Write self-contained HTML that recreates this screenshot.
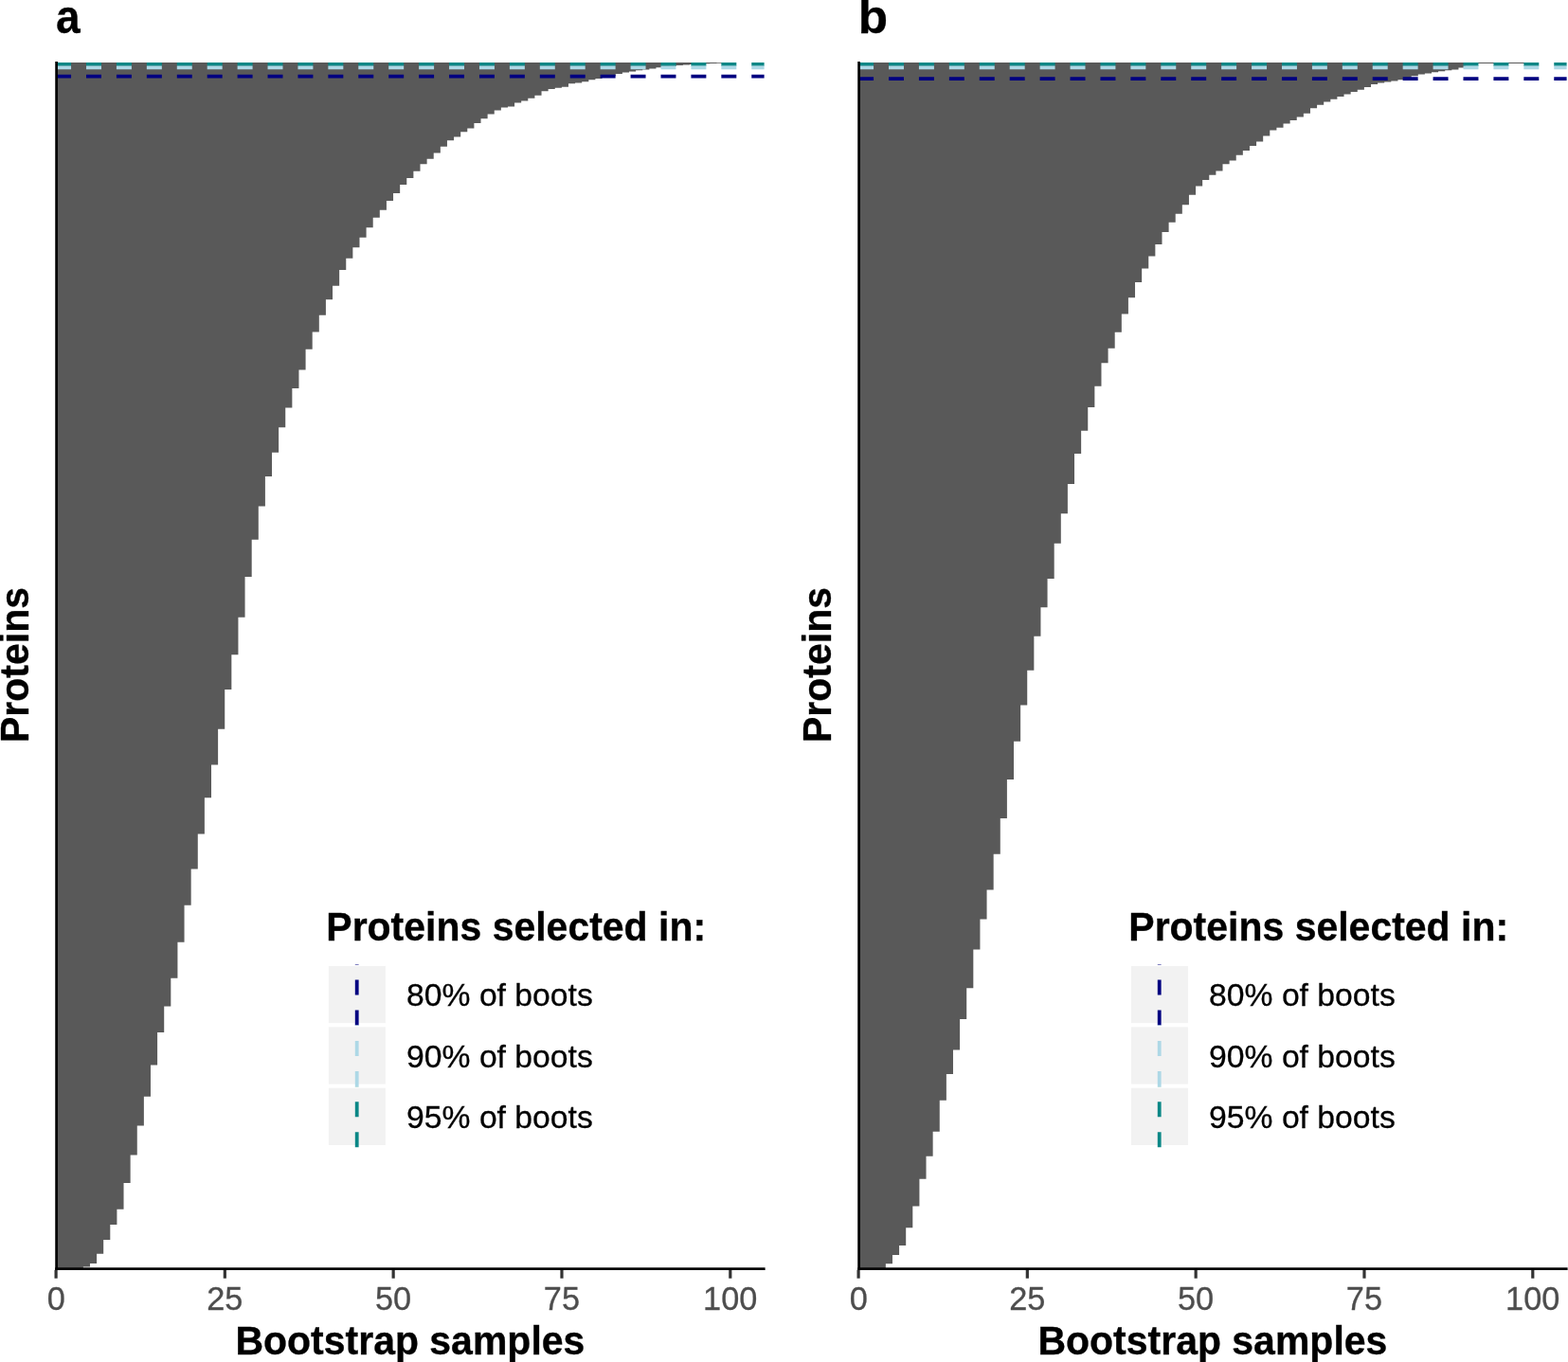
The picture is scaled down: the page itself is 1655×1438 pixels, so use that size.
<!DOCTYPE html>
<html lang="en">
<head>
<meta charset="utf-8">
<title>Bootstrap selection frequency of proteins</title>
<style>
html,body{margin:0;padding:0;background:#fff;}
body{width:1655px;height:1438px;overflow:hidden;}
svg{display:block;font-family:"Liberation Sans",sans-serif;}

</style>
</head>
<body>
<svg width="1655" height="1438" viewBox="0 0 1655 1438">
<rect width="1655" height="1438" fill="#fff"/>
<g>
<path d="M59.4 1339.5H87.85V1337.5H94.97V1334H102.08V1323.8H109.19V1308.9H116.3V1293H123.42V1276.7H130.53V1249H137.64V1219.6H144.76V1188.6H151.87V1157.7H158.98V1124.5H166.09V1090.1H173.21V1062.5H180.32V1032.8H187.43V994.8H194.55V955.7H201.66V917.6H208.77V880.4H215.89V842.2H223V807.6H230.11V769.7H237.23V728.1H244.34V691.2H251.45V651.7H258.56V608.9H265.68V569.7H272.79V534.6H279.9V503.1H287.02V477.8H294.13V451.2H301.24V430.6H308.36V409.9H315.47V390.5H322.58V368.7H329.69V350.6H336.81V332.7H343.92V316.3H351.03V301.7H358.15V284.9H365.26V272.8H372.37V261.2H379.49V250.8H386.6V240.2H393.71V229.8H400.82V221.8H407.94V211.9H415.05V203.9H422.16V195H429.28V188H436.39V180.7H443.5V173.2H450.62V167.7H457.73V161.6H464.84V154.8H471.95V148.2H479.07V144.4H486.18V139.3H493.29V135.5H500.41V130H507.52V125.2H514.63V120.6H521.75V116.4H528.86V113.4H535.97V112.4H543.08V108.5H550.2V106.6H557.31V103.7H564.42V100.7H571.54V96.3H578.65V93.9H585.76V92.8H592.88V91.7H599.99V88.2H607.1V87.6H614.21V86.2H621.33V84.2H628.44V82.9H635.55V81.6H642.67V80.3H649.78V77.9H656.89V76.6H664V75.6H671.12V74.3H678.23V73.6H685.34V72.6H692.46V71.3H699.57V70.5H706.68V69.7H713.8V68.9H720.91V68.4H728.02V68H735.13V67.6H742.25V67.3H749.36V67H756.47V66.8H763.59V66H770.7V66H59.4Z" fill="#595959"/>
<path d="M59.1 80.7H806.6" stroke="#000080" stroke-width="3.7" stroke-dasharray="15.96 15.96" fill="none"/>
<path d="M59.1 67.85H806.6" stroke="#0A8786" stroke-width="3.7" stroke-dasharray="15.96 15.96" fill="none"/>
<path d="M59.1 71.4H806.6" stroke="#ADD8E6" stroke-width="3.7" stroke-dasharray="15.96 15.96" fill="none"/>
<rect x="58.25" y="65" width="2.7" height="1276" fill="#000"/>
<rect x="58.25" y="1338.3" width="749.35" height="2.7" fill="#000"/>
<rect x="57.5" y="1340.9" width="3.2" height="8.8" fill="#333333"/>
<text transform="translate(59.4 1382.8)" text-anchor="middle" font-size="34.3" fill="#4D4D4D" stroke="#4D4D4D" stroke-width="0.3">0</text>
<rect x="235.73" y="1340.9" width="3.2" height="8.8" fill="#333333"/>
<text transform="translate(237.23 1382.8)" text-anchor="middle" font-size="34.3" fill="#4D4D4D" stroke="#4D4D4D" stroke-width="0.3">25</text>
<rect x="413.55" y="1340.9" width="3.2" height="8.8" fill="#333333"/>
<text transform="translate(415.05 1382.8)" text-anchor="middle" font-size="34.3" fill="#4D4D4D" stroke="#4D4D4D" stroke-width="0.3">50</text>
<rect x="591.38" y="1340.9" width="3.2" height="8.8" fill="#333333"/>
<text transform="translate(592.88 1382.8)" text-anchor="middle" font-size="34.3" fill="#4D4D4D" stroke="#4D4D4D" stroke-width="0.3">75</text>
<rect x="769.2" y="1340.9" width="3.2" height="8.8" fill="#333333"/>
<text transform="translate(770.7 1382.8)" text-anchor="middle" font-size="34.3" fill="#4D4D4D" stroke="#4D4D4D" stroke-width="0.3">100</text>
<text transform="translate(432.9 1429.6) scale(0.976 1)" text-anchor="middle" font-size="42" font-weight="bold" stroke="#000" stroke-width="0.35">Bootstrap samples</text>
<text transform="translate(29.9 702) rotate(-90) scale(0.976 1)" text-anchor="middle" font-size="42" font-weight="bold" stroke="#000" stroke-width="0.35">Proteins</text>
<text transform="translate(58.9 35.3) scale(0.935 1)" font-size="49.3" font-weight="bold" stroke="#000" stroke-width="0.3">a</text>
<text transform="translate(344.3 992.8) scale(0.976 1)" font-size="42" font-weight="bold" stroke="#000" stroke-width="0.35">Proteins selected in:</text>
<rect x="346.9" y="1019.9" width="60" height="60.3" fill="#F2F2F2"/>
<rect x="346.9" y="1084.3" width="60" height="60.3" fill="#F2F2F2"/>
<rect x="346.9" y="1148.7" width="60" height="60.3" fill="#F2F2F2"/>
<path d="M376.7 1082.5V1018.1" stroke="#000080" stroke-width="3.8" stroke-dasharray="16 16" fill="none"/>
<text transform="translate(429.1 1062.3)" font-size="33.7" stroke="#000" stroke-width="0.3">80% of boots</text>
<path d="M376.7 1146.9V1082.5" stroke="#ADD8E6" stroke-width="3.8" stroke-dasharray="16 16" fill="none"/>
<text transform="translate(429.1 1126.7)" font-size="33.7" stroke="#000" stroke-width="0.3">90% of boots</text>
<path d="M376.7 1211.3V1146.9" stroke="#0A8786" stroke-width="3.8" stroke-dasharray="16 16" fill="none"/>
<text transform="translate(429.1 1191.1)" font-size="33.7" stroke="#000" stroke-width="0.3">95% of boots</text>
</g>
<g>
<path d="M906.4 1339.5H934.85V1334.3H941.97V1324.9H949.08V1315H956.19V1296.2H963.3V1273.4H970.42V1244.7H977.53V1220.8H984.64V1194.8H991.76V1161.8H998.87V1133.9H1005.98V1108.6H1013.1V1075.9H1020.21V1043.2H1027.32V1002.4H1034.43V970.5H1041.55V939.4H1048.66V901.7H1055.77V864H1062.89V822.9H1070V782.8H1077.11V744.5H1084.22V707.8H1091.34V671.7H1098.45V641.2H1105.56V611.1H1112.68V573.8H1119.79V542.3H1126.9V511.1H1134.02V478.9H1141.13V454.8H1148.24V429.9H1155.36V407.7H1162.47V383.2H1169.58V367.8H1176.69V350.8H1183.81V331.6H1190.92V314.2H1198.03V297.9H1205.15V283.4H1212.26V270.6H1219.37V258H1226.49V245H1233.6V234.8H1240.71V225.7H1247.82V216.3H1254.94V205.8H1262.05V196.4H1269.16V189.9H1276.28V184.8H1283.39V180.5H1290.5V173.2H1297.62V169.6H1304.73V163.8H1311.84V158.9H1318.95V154.1H1326.07V149.5H1333.18V143.6H1340.29V137.6H1347.41V134.7H1354.52V130.4H1361.63V127H1368.74V123.6H1375.86V119.8H1382.97V114.3H1390.08V110.7H1397.2V107.5H1404.31V104.8H1411.42V102H1418.54V99.5H1425.65V96.9H1432.76V94.8H1439.88V92H1446.99V88.9H1454.1V87.6H1461.21V86.6H1468.33V85.6H1475.44V84.2H1482.55V82.3H1489.67V80.3H1496.78V78.6H1503.89V77.6H1511.01V76.3H1518.12V75.2H1525.23V74.2H1532.34V73.4H1539.46V71.5H1546.57V67H1553.68V67H1560.8V67H1567.91V67H1575.02V67H1582.13V67H1589.25V67H1596.36V67H1603.47V67H1610.59V67H1617.7V66H906.4Z" fill="#595959"/>
<path d="M906.1 83.2H1653.6" stroke="#000080" stroke-width="3.7" stroke-dasharray="15.96 15.96" fill="none"/>
<path d="M906.1 67.85H1653.6" stroke="#0A8786" stroke-width="3.7" stroke-dasharray="15.96 15.96" fill="none"/>
<path d="M906.1 71.4H1653.6" stroke="#ADD8E6" stroke-width="3.7" stroke-dasharray="15.96 15.96" fill="none"/>
<rect x="905.25" y="65" width="2.7" height="1276" fill="#000"/>
<rect x="905.25" y="1338.3" width="749.35" height="2.7" fill="#000"/>
<rect x="904.5" y="1340.9" width="3.2" height="8.8" fill="#333333"/>
<text transform="translate(906.4 1382.8)" text-anchor="middle" font-size="34.3" fill="#4D4D4D" stroke="#4D4D4D" stroke-width="0.3">0</text>
<rect x="1082.72" y="1340.9" width="3.2" height="8.8" fill="#333333"/>
<text transform="translate(1084.22 1382.8)" text-anchor="middle" font-size="34.3" fill="#4D4D4D" stroke="#4D4D4D" stroke-width="0.3">25</text>
<rect x="1260.55" y="1340.9" width="3.2" height="8.8" fill="#333333"/>
<text transform="translate(1262.05 1382.8)" text-anchor="middle" font-size="34.3" fill="#4D4D4D" stroke="#4D4D4D" stroke-width="0.3">50</text>
<rect x="1438.38" y="1340.9" width="3.2" height="8.8" fill="#333333"/>
<text transform="translate(1439.88 1382.8)" text-anchor="middle" font-size="34.3" fill="#4D4D4D" stroke="#4D4D4D" stroke-width="0.3">75</text>
<rect x="1616.2" y="1340.9" width="3.2" height="8.8" fill="#333333"/>
<text transform="translate(1617.7 1382.8)" text-anchor="middle" font-size="34.3" fill="#4D4D4D" stroke="#4D4D4D" stroke-width="0.3">100</text>
<text transform="translate(1279.9 1429.6) scale(0.976 1)" text-anchor="middle" font-size="42" font-weight="bold" stroke="#000" stroke-width="0.35">Bootstrap samples</text>
<text transform="translate(876.9 702) rotate(-90) scale(0.976 1)" text-anchor="middle" font-size="42" font-weight="bold" stroke="#000" stroke-width="0.35">Proteins</text>
<text transform="translate(905.8 35.3) scale(1.04 1)" font-size="49.3" font-weight="bold" stroke="#000" stroke-width="0.3">b</text>
<text transform="translate(1191.3 992.8) scale(0.976 1)" font-size="42" font-weight="bold" stroke="#000" stroke-width="0.35">Proteins selected in:</text>
<rect x="1193.9" y="1019.9" width="60" height="60.3" fill="#F2F2F2"/>
<rect x="1193.9" y="1084.3" width="60" height="60.3" fill="#F2F2F2"/>
<rect x="1193.9" y="1148.7" width="60" height="60.3" fill="#F2F2F2"/>
<path d="M1223.7 1082.5V1018.1" stroke="#000080" stroke-width="3.8" stroke-dasharray="16 16" fill="none"/>
<text transform="translate(1276.1 1062.3)" font-size="33.7" stroke="#000" stroke-width="0.3">80% of boots</text>
<path d="M1223.7 1146.9V1082.5" stroke="#ADD8E6" stroke-width="3.8" stroke-dasharray="16 16" fill="none"/>
<text transform="translate(1276.1 1126.7)" font-size="33.7" stroke="#000" stroke-width="0.3">90% of boots</text>
<path d="M1223.7 1211.3V1146.9" stroke="#0A8786" stroke-width="3.8" stroke-dasharray="16 16" fill="none"/>
<text transform="translate(1276.1 1191.1)" font-size="33.7" stroke="#000" stroke-width="0.3">95% of boots</text>
</g>
</svg>
</body>
</html>
